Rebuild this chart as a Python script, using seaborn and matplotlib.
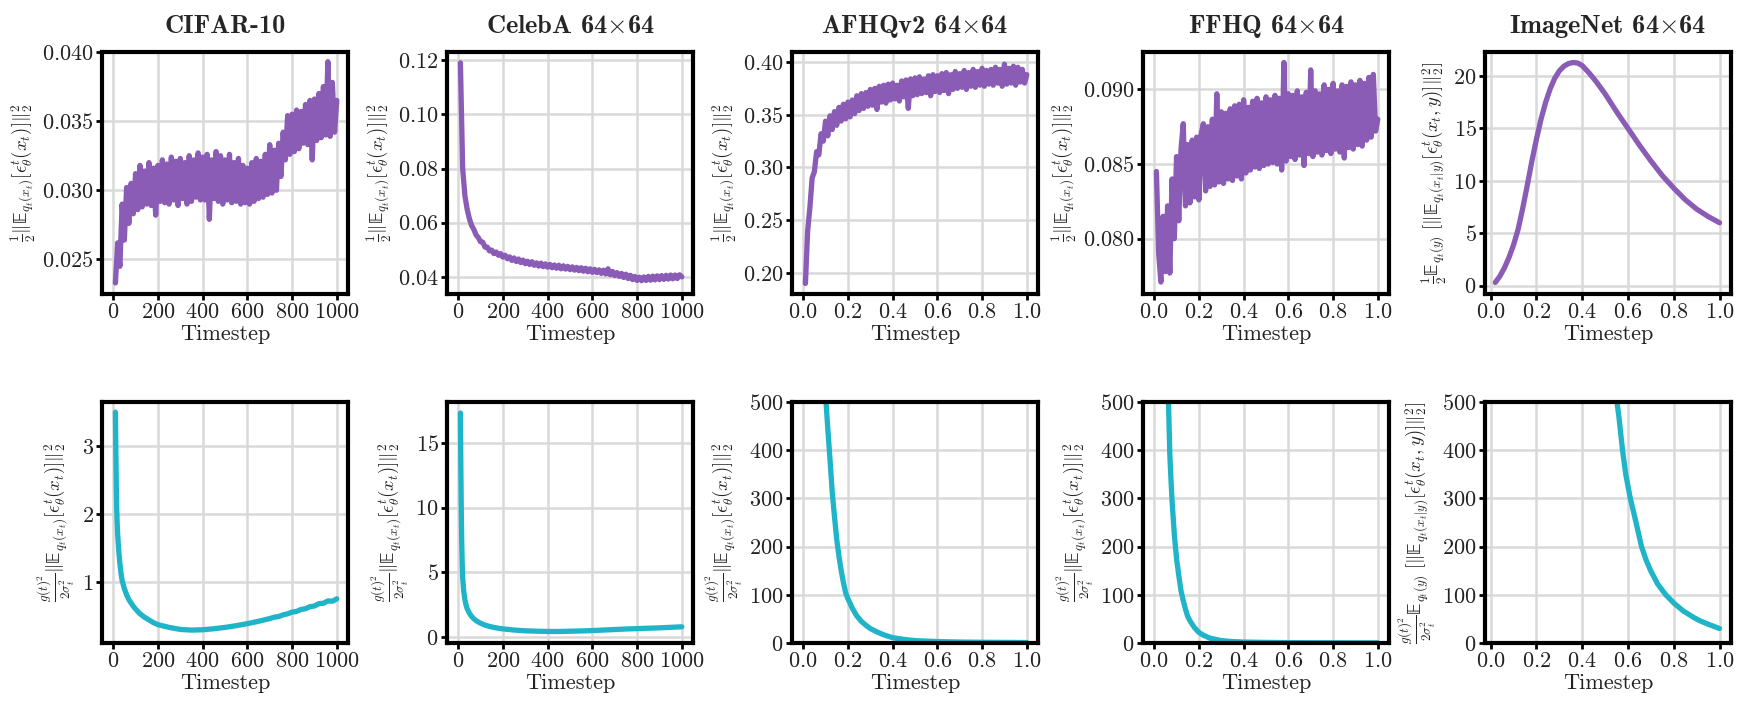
import matplotlib
matplotlib.use("Agg")
import matplotlib.pyplot as plt
import seaborn as sns

# === data ===
titles = ["CIFAR-10", "CelebA 64$\\times$64", "AFHQv2 64$\\times$64",
          "FFHQ 64$\\times$64", "ImageNet 64$\\times$64"]

steps_1000 = list(range(10, 1001, 10))
steps_unit = [round(0.01 * i, 2) for i in range(1, 101)]

cifar_top = [
    0.0233, 0.0262, 0.0245, 0.0290, 0.0264, 0.0302, 0.0276, 0.0305, 0.0283, 0.0312,
    0.0286, 0.0318, 0.0288, 0.0314, 0.0290, 0.0320, 0.0289, 0.0316, 0.0282, 0.0318,
    0.0292, 0.0322, 0.0291, 0.0319, 0.0290, 0.0324, 0.0293, 0.0321, 0.0289, 0.0323,
    0.0294, 0.0320, 0.0290, 0.0325, 0.0292, 0.0322, 0.0295, 0.0327, 0.0293, 0.0324,
    0.0293, 0.0326, 0.0279, 0.0322, 0.0294, 0.0328, 0.0292, 0.0325, 0.0290, 0.0322,
    0.0293, 0.0326, 0.0291, 0.0320, 0.0292, 0.0323, 0.0290, 0.0318, 0.0291, 0.0316,
    0.0290, 0.0320, 0.0292, 0.0323, 0.0294, 0.0321, 0.0295, 0.0326, 0.0297, 0.0333,
    0.0298, 0.0329, 0.0300, 0.0334, 0.0310, 0.0342, 0.0322, 0.0354, 0.0326, 0.0355,
    0.0328, 0.0358, 0.0330, 0.0357, 0.0334, 0.0362, 0.0333, 0.0365, 0.0322, 0.0366,
    0.0336, 0.0370, 0.0338, 0.0375, 0.0340, 0.0393, 0.0339, 0.0378, 0.0342, 0.0365,
]

celeba_top = [
    0.1190, 0.0800, 0.0700, 0.0650, 0.0615, 0.0590, 0.0575, 0.0555, 0.0545, 0.0530,
    0.0528, 0.0510, 0.0510, 0.0496, 0.0499, 0.0486, 0.0492, 0.0480, 0.0486, 0.0473,
    0.0480, 0.0467, 0.0474, 0.0461, 0.0470, 0.0457, 0.0466, 0.0453, 0.0462, 0.0449,
    0.0458, 0.0446, 0.0456, 0.0443, 0.0452, 0.0440, 0.0451, 0.0438, 0.0448, 0.0436,
    0.0446, 0.0434, 0.0444, 0.0432, 0.0443, 0.0430, 0.0441, 0.0429, 0.0439, 0.0427,
    0.0437, 0.0425, 0.0435, 0.0423, 0.0434, 0.0421, 0.0432, 0.0419, 0.0430, 0.0417,
    0.0428, 0.0416, 0.0426, 0.0413, 0.0425, 0.0411, 0.0430, 0.0408, 0.0420, 0.0405,
    0.0416, 0.0402, 0.0413, 0.0398, 0.0410, 0.0394, 0.0406, 0.0390, 0.0402, 0.0387,
    0.0399, 0.0386, 0.0400, 0.0387, 0.0402, 0.0388, 0.0403, 0.0389, 0.0404, 0.0390,
    0.0405, 0.0391, 0.0406, 0.0392, 0.0407, 0.0393, 0.0407, 0.0394, 0.0408, 0.0400,
]

afhq_top = [
    0.190, 0.240, 0.262, 0.290, 0.296, 0.315, 0.312, 0.332, 0.325, 0.344,
    0.330, 0.349, 0.336, 0.353, 0.340, 0.357, 0.344, 0.360, 0.346, 0.362,
    0.348, 0.364, 0.351, 0.368, 0.354, 0.370, 0.356, 0.371, 0.358, 0.374,
    0.359, 0.375, 0.355, 0.377, 0.362, 0.378, 0.361, 0.379, 0.364, 0.380,
    0.365, 0.378, 0.363, 0.382, 0.367, 0.383, 0.356, 0.384, 0.368, 0.385,
    0.369, 0.386, 0.370, 0.384, 0.371, 0.387, 0.368, 0.388, 0.372, 0.387,
    0.371, 0.389, 0.373, 0.390, 0.370, 0.388, 0.374, 0.391, 0.375, 0.389,
    0.376, 0.392, 0.374, 0.390, 0.377, 0.393, 0.376, 0.391, 0.378, 0.394,
    0.377, 0.392, 0.379, 0.393, 0.378, 0.395, 0.380, 0.393, 0.377, 0.398,
    0.379, 0.394, 0.380, 0.396, 0.378, 0.395, 0.381, 0.393, 0.380, 0.388,
]

ffhq_top = [
    0.0845, 0.0790, 0.0771, 0.0815, 0.0778, 0.0822, 0.0777, 0.0840, 0.0800, 0.0855,
    0.0812, 0.0860, 0.0877, 0.0822, 0.0863, 0.0824, 0.0866, 0.0828, 0.0868, 0.0826,
    0.0870, 0.0877, 0.0832, 0.0875, 0.0835, 0.0880, 0.0836, 0.0897, 0.0838, 0.0885,
    0.0837, 0.0884, 0.0840, 0.0887, 0.0839, 0.0889, 0.0842, 0.0890, 0.0840, 0.0893,
    0.0844, 0.0888, 0.0846, 0.0892, 0.0848, 0.0894, 0.0847, 0.0891, 0.0849, 0.0895,
    0.0850, 0.0893, 0.0851, 0.0896, 0.0850, 0.0894, 0.0846, 0.0918, 0.0852, 0.0897,
    0.0855, 0.0896, 0.0853, 0.0899, 0.0856, 0.0895, 0.0849, 0.0898, 0.0857, 0.0913,
    0.0855, 0.0899, 0.0858, 0.0897, 0.0856, 0.0903, 0.0859, 0.0900, 0.0857, 0.0904,
    0.0860, 0.0899, 0.0858, 0.0903, 0.0854, 0.0902, 0.0861, 0.0905, 0.0860, 0.0903,
    0.0863, 0.0906, 0.0862, 0.0904, 0.0866, 0.0908, 0.0868, 0.0910, 0.0872, 0.0880,
]

imnet_top_t = [0.02, 0.04, 0.06, 0.08, 0.10, 0.12, 0.14, 0.16, 0.18, 0.20, 0.22,
               0.24, 0.26, 0.28, 0.30, 0.32, 0.34, 0.36, 0.38, 0.40, 0.43, 0.46,
               0.50, 0.55, 0.60, 0.65, 0.70, 0.75, 0.80, 0.85, 0.90, 0.95, 1.00]
imnet_top = [0.3, 0.9, 1.7, 2.7, 3.9, 5.4, 7.4, 9.6, 11.9, 14.0, 15.9,
             17.5, 18.8, 19.8, 20.5, 20.95, 21.2, 21.3, 21.25, 21.0, 20.3, 19.5,
             18.3, 16.6, 15.0, 13.4, 11.9, 10.5, 9.3, 8.2, 7.3, 6.6, 6.0]

cifar_bot_t = [10, 12, 14, 16, 18, 20, 25, 30, 35, 40, 50, 60, 70, 80, 90, 100,
               120, 140, 160, 180, 200, 250, 300, 350, 400, 450, 500, 550, 600,
               650, 700, 720, 740, 760, 780, 800, 820, 840, 860, 880, 900, 920,
               940, 960, 980, 1000]
cifar_bot = [3.5, 2.9, 2.4, 2.05, 1.85, 1.7, 1.45, 1.27, 1.13, 1.02, 0.9, 0.81,
             0.74, 0.69, 0.64, 0.60, 0.53, 0.48, 0.44, 0.40, 0.37, 0.33, 0.30,
             0.29, 0.295, 0.31, 0.33, 0.355, 0.385, 0.42, 0.46, 0.48, 0.49,
             0.515, 0.53, 0.555, 0.565, 0.595, 0.605, 0.635, 0.645, 0.68,
             0.685, 0.72, 0.715, 0.75]

celeba_bot_t = [10, 12, 14, 16, 18, 20, 25, 30, 35, 40, 50, 60, 70, 80, 90, 100,
                120, 140, 160, 180, 200, 250, 300, 350, 400, 450, 500, 550, 600,
                650, 700, 750, 800, 850, 900, 950, 1000]
celeba_bot = [17.3, 13.0, 9.6, 7.2, 5.7, 4.6, 3.5, 2.9, 2.5, 2.2, 1.85, 1.6,
              1.42, 1.28, 1.17, 1.08, 0.93, 0.83, 0.75, 0.69, 0.64, 0.55, 0.49,
              0.46, 0.44, 0.44, 0.46, 0.48, 0.51, 0.55, 0.59, 0.63, 0.66, 0.69,
              0.72, 0.76, 0.80]

afhq_bot_t = [0.08, 0.09, 0.10, 0.11, 0.12, 0.13, 0.14, 0.15, 0.16, 0.17, 0.18,
              0.19, 0.20, 0.22, 0.24, 0.26, 0.28, 0.30, 0.33, 0.36, 0.40, 0.45,
              0.50, 0.60, 0.70, 0.80, 0.90, 1.00]
afhq_bot = [800, 650, 515, 445, 380, 312, 262, 215, 180, 150, 125, 104, 92, 72,
            56, 45, 37, 30, 23, 17, 11, 7.5, 5, 3, 2, 1.5, 1.2, 1.0]

ffhq_bot_t = [0.05, 0.06, 0.065, 0.07, 0.075, 0.08, 0.09, 0.10, 0.11, 0.12, 0.13,
              0.14, 0.15, 0.16, 0.18, 0.20, 0.22, 0.25, 0.30, 0.35, 0.40, 0.50,
              0.60, 0.70, 0.80, 0.90, 1.00]
ffhq_bot = [850, 590, 480, 390, 340, 295, 225, 175, 140, 108, 88, 70, 55, 46, 32,
            22, 16, 10, 5, 3, 2, 1.2, 0.8, 0.6, 0.5, 0.4, 0.4]

imnet_bot_t = [0.53, 0.55, 0.56, 0.576, 0.59, 0.61, 0.635, 0.659, 0.68, 0.70,
               0.73, 0.765, 0.80, 0.84, 0.88, 0.91, 0.95, 1.00]
imnet_bot = [580, 505, 470, 400, 350, 300, 250, 200, 171, 149, 122, 100, 83, 67,
             55, 47, 39, 30]

# ticks
ticks_1000 = [0, 200, 400, 600, 800, 1000]
ticks_unit = [0.0, 0.2, 0.4, 0.6, 0.8, 1.0]
top_yticks = [[0.025, 0.030, 0.035, 0.040], [0.04, 0.06, 0.08, 0.10, 0.12],
              [0.20, 0.25, 0.30, 0.35, 0.40], [0.080, 0.085, 0.090],
              [0, 5, 10, 15, 20]]
bot_yticks = [[1, 2, 3], [0, 5, 10, 15], [0, 100, 200, 300, 400, 500],
              [0, 100, 200, 300, 400, 500], [0, 100, 200, 300, 400, 500]]
top_ylims = [(0.0225, 0.0400), (0.0337, 0.1230), (0.180, 0.4095),
             (0.0763, 0.0925), (-0.8, 22.3)]
bot_ylims = [(0.10, 3.65), (-0.45, 18.15), (0, 500), (0, 500), (0, 500)]
xlims = [(-50, 1050), (-50, 1050), (-0.05, 1.05), (-0.05, 1.05), (-0.025, 1.05)]

# double-struck E (expectation)
EE = "\U0001D53C"
lab_top = r"$\frac{1}{2}\Vert " + EE + r"_{q_t(x_t)}[\epsilon_\theta^t(x_t)]\Vert_2^2$"
lab_top_in = (r"$\frac{1}{2}" + EE + r"_{q_t(y)}\ [\Vert " + EE + r"_{q_t(x_t|y)}"
              r"[\epsilon_\theta^t(x_t,y)]\Vert_2^2]$")
lab_bot = (r"$\frac{g(t)^2}{2\sigma_t^2}\Vert " + EE + r"_{q_t(x_t)}"
           r"[\epsilon_\theta^t(x_t)]\Vert_2^2$")
lab_bot_in = (r"$\frac{g(t)^2}{2\sigma_t^2}" + EE + r"_{q_t(y)}\ [\Vert " + EE +
              r"_{q_t(x_t|y)}[\epsilon_\theta^t(x_t,y)]\Vert_2^2]$")

top_series = [(steps_1000, cifar_top), (steps_1000, celeba_top),
              (steps_unit, afhq_top), (steps_unit, ffhq_top),
              (imnet_top_t, imnet_top)]
bot_series = [(cifar_bot_t, cifar_bot), (celeba_bot_t, celeba_bot),
              (afhq_bot_t, afhq_bot), (ffhq_bot_t, ffhq_bot),
              (imnet_bot_t, imnet_bot)]

purple = "#8a5cb6"
cyan = "#20b4c8"

# === style ===
sns.set_theme(style="whitegrid")
plt.rcParams["font.family"] = "serif"
plt.rcParams["font.serif"] = ["cmr10", "DejaVu Serif"]
plt.rcParams["mathtext.fontset"] = "cm"
plt.rcParams["axes.formatter.use_mathtext"] = True

fig = plt.figure(figsize=(17.44, 7.02), dpi=100)
W, H = 1744, 702
lefts = [102, 447, 792, 1143, 1485]
width = 246


def style_axis(ax, xt, yt, xl, yl, ylabel):
    ax.set_xlim(*xl)
    ax.set_ylim(*yl)
    ax.set_xticks(xt)
    ax.set_yticks(yt)
    ax.grid(True, color="#d9d9d9", linewidth=1.8)
    for sp in ax.spines.values():
        sp.set_color("black")
        sp.set_linewidth(3.0)
    ax.tick_params(axis="both", which="major", length=4, width=2, color="black",
                   direction="out", left=True, bottom=True, labelsize=16, pad=2,
                   labelcolor="#222222")
    ax.set_xlabel("Timestep", fontsize=16, labelpad=2, color="#222222")
    ax.set_ylabel(ylabel, fontsize=13.5, labelpad=3, color="#222222")


for i in range(5):
    # top row
    ax = fig.add_axes([lefts[i] / W, 1 - 294 / H, width / W, 242 / H])
    x, y = top_series[i]
    sns.lineplot(x=x, y=y, ax=ax, color=purple, linewidth=3.8, estimator=None, sort=False)
    xt = ticks_1000 if i < 2 else ticks_unit
    style_axis(ax, xt, top_yticks[i], xlims[i], top_ylims[i],
               lab_top_in if i == 4 else lab_top)
    ax.set_title(titles[i], fontfamily="cmb10", fontsize=19, pad=14)

    # bottom row
    ax = fig.add_axes([lefts[i] / W, 1 - 643 / H, width / W, 241 / H])
    x, y = bot_series[i]
    sns.lineplot(x=x, y=y, ax=ax, color=cyan, linewidth=3.8, estimator=None, sort=False)
    style_axis(ax, xt, bot_yticks[i], xlims[i], bot_ylims[i],
               lab_bot_in if i == 4 else lab_bot)

fig.savefig("out.png", dpi=100, facecolor="white")
